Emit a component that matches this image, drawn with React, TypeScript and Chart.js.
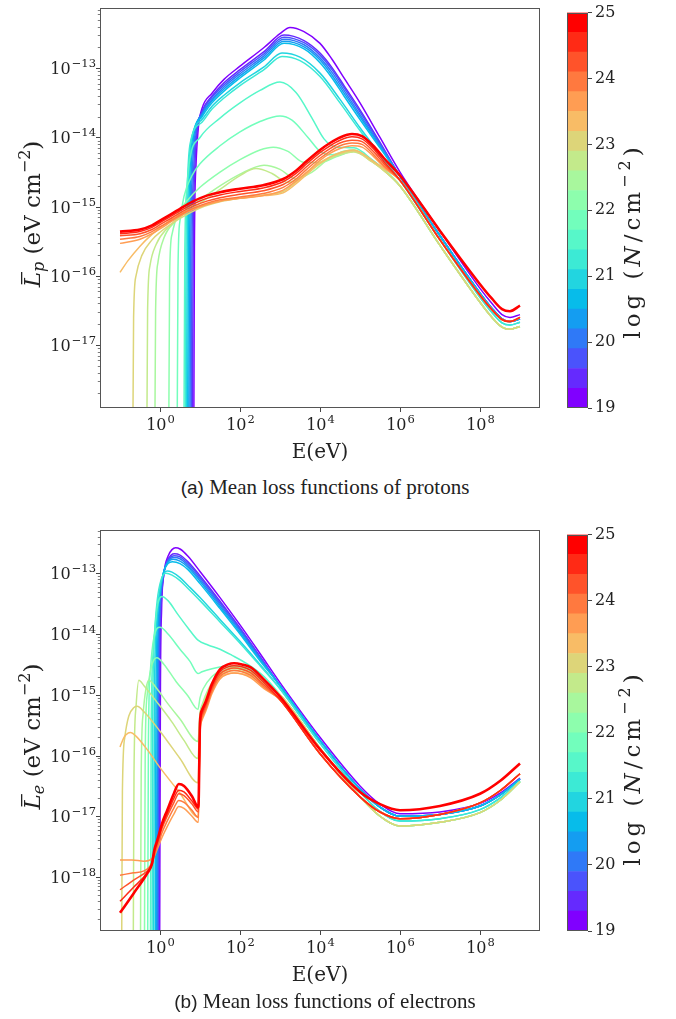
import React, { useEffect, useRef } from "react";
import { Chart, registerables } from "chart.js";
Chart.register(...registerables);

const SERIF = '"DejaVu Serif", "Liberation Serif", serif';
const CAPTION_SERIF = '"Liberation Serif", serif';
const SANS = '"Liberation Sans", "DejaVu Sans", sans-serif';

// colour bar: log N bins and tick labels
const binEdges = [19, 19.3, 19.6, 19.9, 20.2, 20.5, 20.8, 21.1, 21.4, 21.7, 22, 22.3, 22.6, 22.9, 23.2, 23.5, 23.8, 24.1, 24.4, 24.7, 25];
const cbTicks = [19, 20, 21, 22, 23, 24, 25];

// axis ticks (exponents of 10)
const xTickExps = [0, 2, 4, 6, 8];
const pYTickExps = [-17, -16, -15, -14, -13];
const eYTickExps = [-18, -17, -16, -15, -14, -13];
const xRange = [-1.5, 9.5];
const pYRange = [-17.909, -12.129];
const eYRange = [-18.889, -12.287];

// ---------- protons: [log10 E(eV), log10 L] ----------
const P_TAIL_PURPLE = [[6, -14.5], [7, -15.35], [8, -16.18], [8.3, -16.4], [8.55, -16.56], [8.75, -16.6], [9, -16.56]];
const P_TAIL_BLUE = [[6, -14.56], [7, -15.42], [8, -16.25], [8.3, -16.47], [8.55, -16.62], [8.75, -16.66], [9, -16.62]];
const P_TAIL_CYAN = [[6, -14.62], [7, -15.48], [8, -16.31], [8.3, -16.53], [8.55, -16.68], [8.75, -16.71], [9, -16.67]];
const P_TAIL_GREEN = [[6, -14.7], [7, -15.56], [8, -16.38], [8.3, -16.6], [8.55, -16.74], [8.75, -16.77], [9, -16.73]];
const P_TAIL_ORANGE = [[6, -14.62], [7, -15.48], [8, -16.28], [8.3, -16.49], [8.55, -16.63], [8.75, -16.66], [9, -16.6]];
const P_TAIL_RED = [[6, -14.55], [7, -15.35], [8, -16.12], [8.3, -16.33], [8.55, -16.48], [8.75, -16.51], [9, -16.43]];

const P0 = [[0.84, -19.5], [0.86, -15.6], [0.9, -14.4], [0.96, -13.85], [1.05, -13.58], [1.3, -13.36], [1.6, -13.16], [2.0, -12.97], [2.6, -12.7], [3.0, -12.5], [3.25, -12.41], [3.6, -12.47], [4.0, -12.64], [4.3, -12.87], [4.6, -13.14], [5.0, -13.5], [5.5, -14.0]];
const P1 = [[0.8, -19.5], [0.83, -15.6], [0.87, -14.45], [0.93, -13.9], [1.05, -13.62], [1.3, -13.4], [1.6, -13.21], [2.0, -13.02], [2.6, -12.76], [3.1, -12.52], [3.6, -12.6], [4.0, -12.78], [4.3, -12.99], [4.6, -13.25], [5.0, -13.6], [5.5, -14.07]];
const P2 = [[0.77, -19.5], [0.8, -15.6], [0.84, -14.5], [0.9, -13.95], [1.05, -13.64], [1.3, -13.42], [1.6, -13.24], [2.0, -13.05], [2.6, -12.79], [3.1, -12.55], [3.6, -12.63], [4.0, -12.81], [4.3, -13.02], [4.6, -13.28], [5.0, -13.63], [5.5, -14.09]];
const P3 = [[0.74, -19.5], [0.77, -15.6], [0.81, -14.5], [0.87, -13.98], [1.05, -13.66], [1.3, -13.45], [1.6, -13.27], [2.0, -13.08], [2.6, -12.82], [3.1, -12.58], [3.6, -12.66], [4.0, -12.85], [4.3, -13.06], [4.6, -13.32], [5.0, -13.67], [5.5, -14.11]];
const P4 = [[0.71, -19.5], [0.74, -15.6], [0.78, -14.5], [0.84, -14.0], [1.05, -13.68], [1.3, -13.47], [1.6, -13.3], [2.0, -13.11], [2.6, -12.85], [3.1, -12.61], [3.6, -12.69], [4.0, -12.88], [4.3, -13.1], [4.6, -13.36], [5.0, -13.7], [5.5, -14.13]];
const P5 = [[0.68, -19.5], [0.71, -15.6], [0.75, -14.5], [0.81, -14.02], [1.05, -13.7], [1.3, -13.5], [1.6, -13.33], [2.0, -13.14], [2.6, -12.88], [3.1, -12.64], [3.6, -12.72], [4.0, -12.92], [4.3, -13.14], [4.6, -13.4], [5.0, -13.74], [5.5, -14.15]];
const P6 = [[0.65, -19.5], [0.68, -15.6], [0.72, -14.55], [0.78, -14.05], [1.05, -13.74], [1.3, -13.55], [1.6, -13.39], [2.0, -13.21], [2.6, -12.98], [3.05, -12.78], [3.5, -12.84], [4.0, -13.07], [4.5, -13.45], [5.0, -13.86], [5.5, -14.24]];
const P7 = [[0.62, -19.5], [0.65, -15.6], [0.69, -14.6], [0.75, -14.1], [1.05, -13.78], [1.3, -13.59], [1.6, -13.43], [2.0, -13.25], [2.6, -13.02], [3.05, -12.83], [3.5, -12.89], [4.0, -13.12], [4.5, -13.5], [5.0, -13.9], [5.5, -14.27]];
const P8 = [[0.59, -19.5], [0.62, -15.7], [0.67, -14.75], [0.75, -14.3], [1.0, -14.0], [1.5, -13.72], [2.0, -13.5], [2.5, -13.32], [3.0, -13.2], [3.4, -13.35], [3.8, -13.72], [4.1, -14.02], [4.4, -14.14], [4.85, -14.15], [5.3, -14.32], [5.6, -14.46]];
const P9 = [[0.42, -19.5], [0.45, -15.9], [0.5, -15.2], [0.6, -14.85], [0.8, -14.55], [1.0, -14.38], [1.5, -14.12], [2.0, -13.92], [2.5, -13.77], [3.0, -13.69], [3.3, -13.75], [3.7, -14.0], [4.0, -14.2], [4.3, -14.25], [4.6, -14.2], [4.85, -14.18], [5.3, -14.34], [5.6, -14.47]];
const P10 = [[0.21, -19.5], [0.24, -16.0], [0.3, -15.4], [0.45, -15.1], [0.7, -14.9], [1.0, -14.72], [1.5, -14.5], [2.0, -14.32], [2.5, -14.18], [2.83, -14.14], [3.2, -14.2], [3.6, -14.36], [4.0, -14.36], [4.4, -14.28], [4.85, -14.2], [5.3, -14.34], [5.6, -14.47]];
const P11 = [[-0.14, -19.5], [-0.11, -16.5], [-0.05, -15.8], [0.1, -15.45], [0.4, -15.2], [0.7, -15.03], [1.0, -14.9], [1.5, -14.7], [2.0, -14.53], [2.6, -14.4], [3.0, -14.46], [3.4, -14.6], [3.8, -14.5], [4.2, -14.32], [4.85, -14.2], [5.3, -14.35], [5.6, -14.48]];
const P12 = [[-0.34, -19.5], [-0.31, -16.5], [-0.25, -15.85], [-0.1, -15.55], [0.2, -15.3], [0.5, -15.15], [1.0, -14.95], [1.5, -14.75], [2.0, -14.55], [2.4, -14.45], [2.8, -14.52], [3.2, -14.65], [3.6, -14.55], [4.0, -14.38], [4.4, -14.27], [4.85, -14.21], [5.3, -14.35], [5.6, -14.48]];
const P13 = [[-0.69, -19.5], [-0.66, -16.6], [-0.6, -16.0], [-0.45, -15.7], [-0.2, -15.48], [0.0, -15.37], [0.5, -15.17], [1.0, -15.02], [1.5, -14.93], [2.0, -14.88], [2.6, -14.83], [3.08, -14.78], [3.5, -14.6], [4.0, -14.36], [4.4, -14.25], [4.85, -14.2], [5.3, -14.35], [5.6, -14.48]];
const P14 = [[-1, -15.95], [-0.8, -15.78], [-0.5, -15.57], [-0.2, -15.4], [0.2, -15.22], [0.6, -15.08], [1.0, -15.0], [1.5, -14.92], [2.0, -14.88], [2.6, -14.84], [3.08, -14.8], [3.5, -14.62], [4.0, -14.37], [4.4, -14.24], [4.85, -14.18], [5.3, -14.33], [5.6, -14.45]];
const P15 = [[-1, -15.53], [-0.5, -15.47], [-0.2, -15.39], [0, -15.32], [0.3, -15.21], [0.5, -15.14], [0.8, -15.05], [1.17, -14.97], [1.5, -14.92], [2.0, -14.88], [2.58, -14.84], [3.08, -14.76], [3.4, -14.63], [3.67, -14.5], [4.0, -14.33], [4.25, -14.23], [4.5, -14.16], [4.8, -14.12], [5.05, -14.14], [5.33, -14.27], [5.6, -14.43]];
const P16 = [[-1, -15.47], [-0.5, -15.43], [-0.2, -15.36], [0, -15.29], [0.3, -15.19], [0.5, -15.12], [0.8, -15.03], [1.17, -14.95], [1.5, -14.9], [2.0, -14.86], [2.58, -14.81], [3.08, -14.72], [3.4, -14.6], [3.67, -14.46], [4.0, -14.3], [4.25, -14.2], [4.5, -14.12], [4.8, -14.08], [5.05, -14.1], [5.33, -14.24], [5.6, -14.41]];
const P17 = [[-1, -15.42], [-0.5, -15.39], [-0.2, -15.33], [0, -15.26], [0.3, -15.16], [0.5, -15.09], [0.8, -15.0], [1.17, -14.92], [1.5, -14.87], [2.0, -14.82], [2.58, -14.77], [3.08, -14.68], [3.4, -14.56], [3.67, -14.42], [4.0, -14.26], [4.25, -14.16], [4.5, -14.08], [4.8, -14.04], [5.05, -14.06], [5.33, -14.2], [5.6, -14.38]];
const P18 = [[-1, -15.39], [-0.5, -15.36], [-0.2, -15.3], [0, -15.23], [0.3, -15.13], [0.5, -15.06], [0.8, -14.97], [1.17, -14.88], [1.5, -14.83], [2.0, -14.78], [2.58, -14.73], [3.08, -14.64], [3.4, -14.52], [3.67, -14.38], [4.0, -14.22], [4.25, -14.12], [4.5, -14.04], [4.8, -13.99], [5.05, -14.02], [5.33, -14.16], [5.6, -14.35]];
const P19 = [[-1, -15.36], [-0.5, -15.33], [-0.2, -15.27], [0, -15.2], [0.3, -15.1], [0.5, -15.03], [0.8, -14.93], [1.17, -14.84], [1.5, -14.79], [2.0, -14.74], [2.58, -14.69], [3.08, -14.6], [3.4, -14.48], [3.67, -14.34], [4.0, -14.18], [4.25, -14.08], [4.5, -14.0], [4.8, -13.95], [5.05, -13.98], [5.33, -14.12], [5.6, -14.3]];

// ---------- electrons ----------
const E_TAIL_PURPLE = [[3, -14.8], [4, -15.7], [5, -16.5], [5.5, -16.8], [6, -16.96], [7, -16.93], [8, -16.79], [8.5, -16.62], [9, -16.37]];
const E_TAIL_BLUE = [[3, -14.85], [4, -15.75], [5, -16.55], [5.5, -16.85], [6, -17.0], [7, -16.97], [8, -16.83], [8.5, -16.65], [9, -16.39]];
const E_TAIL_CYAN = [[3, -14.9], [4, -15.8], [5, -16.6], [5.5, -16.92], [6, -17.08], [7, -17.04], [8, -16.89], [8.5, -16.7], [9, -16.42]];
const E_TAIL_GREEN = [[3, -15.0], [4, -15.88], [5, -16.68], [5.5, -17.0], [6, -17.16], [7, -17.1], [8, -16.94], [8.5, -16.74], [9, -16.43]];
const E_TAIL_ORANGE = [[3, -15.08], [4, -15.97], [5, -16.68], [5.5, -16.93], [6, -17.04], [7, -16.97], [8, -16.78], [8.5, -16.58], [9, -16.3]];
const E_TAIL_RED = [[3, -15.03], [4, -15.9], [5, -16.6], [5.5, -16.8], [6, -16.9], [7, -16.83], [8, -16.63], [8.5, -16.42], [9, -16.13]];

const E0 = [[-0.01, -19.5], [0.01, -15.0], [0.04, -13.6], [0.1, -13.0], [0.2, -12.72], [0.3, -12.61], [0.39, -12.58], [0.5, -12.6], [0.7, -12.72], [1.0, -12.97], [1.5, -13.4], [2.0, -13.85], [2.5, -14.32]];
const E1 = [[-0.03, -19.5], [-0.01, -15.0], [0.02, -13.7], [0.08, -13.1], [0.18, -12.8], [0.28, -12.7], [0.36, -12.68], [0.5, -12.7], [0.7, -12.81], [1.0, -13.04], [1.5, -13.46], [2.0, -13.9], [2.5, -14.37]];
const E2 = [[-0.05, -19.5], [-0.03, -15.0], [0.0, -13.75], [0.06, -13.15], [0.16, -12.84], [0.26, -12.74], [0.35, -12.71], [0.5, -12.73], [0.7, -12.84], [1.0, -13.07], [1.5, -13.49], [2.0, -13.92], [2.5, -14.38]];
const E3 = [[-0.07, -19.5], [-0.05, -15.0], [-0.02, -13.8], [0.04, -13.2], [0.14, -12.88], [0.24, -12.77], [0.34, -12.74], [0.5, -12.76], [0.7, -12.87], [1.0, -13.1], [1.5, -13.52], [2.0, -13.94], [2.5, -14.4]];
const E4 = [[-0.09, -19.5], [-0.07, -15.0], [-0.04, -13.85], [0.02, -13.25], [0.12, -12.92], [0.22, -12.8], [0.33, -12.77], [0.5, -12.8], [0.7, -12.9], [1.0, -13.13], [1.5, -13.55], [2.0, -13.97], [2.5, -14.42]];
const E5 = [[-0.12, -19.5], [-0.1, -15.0], [-0.07, -13.9], [0.0, -13.3], [0.1, -12.96], [0.2, -12.84], [0.31, -12.81], [0.5, -12.84], [0.7, -12.94], [1.0, -13.17], [1.5, -13.58], [2.0, -14.0], [2.5, -14.44]];
const E6 = [[-0.16, -19.5], [-0.14, -15.2], [-0.1, -14.0], [-0.03, -13.4], [0.07, -13.05], [0.18, -12.96], [0.3, -12.98], [0.5, -13.07], [0.7, -13.2], [1.0, -13.4], [1.5, -13.76], [2.0, -14.12], [2.5, -14.5]];
const E7 = [[-0.2, -19.5], [-0.18, -15.2], [-0.14, -14.05], [-0.07, -13.45], [0.03, -13.1], [0.15, -13.0], [0.3, -13.03], [0.5, -13.12], [0.7, -13.25], [1.0, -13.45], [1.5, -13.8], [2.0, -14.15], [2.5, -14.52]];
const E8 = [[-0.24, -19.5], [-0.22, -15.5], [-0.17, -14.3], [-0.08, -13.6], [0.05, -13.38], [0.2, -13.45], [0.45, -13.68], [0.7, -13.9], [0.95, -14.1], [1.2, -14.18], [1.5, -14.25], [1.8, -14.35], [2.2, -14.5], [2.6, -14.7]];
const E9 = [[-0.31, -19.5], [-0.29, -15.8], [-0.24, -14.6], [-0.15, -14.05], [0.0, -13.89], [0.2, -14.0], [0.5, -14.25], [0.75, -14.45], [0.95, -14.65], [1.05, -14.62], [1.3, -14.57], [1.6, -14.53], [1.9, -14.52], [2.27, -14.58], [2.6, -14.75]];
const E10 = [[-0.39, -19.5], [-0.37, -16.0], [-0.32, -15.0], [-0.22, -14.55], [-0.08, -14.39], [0.1, -14.5], [0.4, -14.78], [0.7, -15.02], [0.95, -15.24], [1.0, -15.05], [1.08, -14.9], [1.3, -14.7], [1.6, -14.56], [1.85, -14.53], [2.27, -14.6], [2.6, -14.78]];
const E11 = [[-0.49, -19.5], [-0.47, -16.3], [-0.42, -15.3], [-0.35, -14.9], [-0.28, -14.76], [-0.1, -14.88], [0.2, -15.15], [0.5, -15.4], [0.95, -15.77], [1.0, -15.3], [1.06, -15.15], [1.2, -14.92], [1.5, -14.64], [1.85, -14.55], [2.27, -14.62], [2.6, -14.8]];
const E12 = [[-0.67, -19.5], [-0.65, -16.3], [-0.6, -15.2], [-0.53, -14.76], [-0.4, -14.85], [-0.1, -15.1], [0.3, -15.45], [0.6, -15.75], [0.95, -16.05], [1.0, -15.35], [1.05, -15.2], [1.2, -14.95], [1.5, -14.66], [1.85, -14.57], [2.27, -14.64], [2.6, -14.82]];
const E13 = [[-0.96, -19.5], [-0.94, -16.6], [-0.88, -15.7], [-0.78, -15.35], [-0.65, -15.21], [-0.57, -15.19], [-0.4, -15.28], [0.0, -15.6], [0.5, -16.05], [0.95, -16.45], [1.0, -15.4], [1.05, -15.25], [1.2, -14.98], [1.5, -14.68], [1.85, -14.6], [2.27, -14.66], [2.6, -14.84]];
const E14 = [[-1, -15.86], [-0.9, -15.7], [-0.8, -15.63], [-0.74, -15.62], [-0.6, -15.68], [-0.3, -15.92], [0.0, -16.2], [0.5, -16.62], [0.95, -17.01], [1.0, -15.5], [1.05, -15.3], [1.2, -15.02], [1.5, -14.72], [1.85, -14.64], [2.27, -14.7], [2.6, -14.88]];
const E15 = [[-1, -17.72], [-0.7, -17.72], [-0.4, -17.74], [-0.25, -17.72], [-0.14, -17.65], [-0.08, -17.56], [-0.03, -17.48], [0.05, -17.35], [0.18, -17.17], [0.35, -16.96], [0.47, -16.84], [0.6, -16.87], [0.8, -17.0], [0.96, -17.1], [1.0, -15.65], [1.05, -15.42], [1.15, -15.26], [1.3, -14.98], [1.5, -14.74], [1.7, -14.66], [1.85, -14.64], [2.05, -14.66], [2.27, -14.72], [2.6, -14.9]];
const E16 = [[-1, -17.97], [-0.66, -17.93], [-0.4, -17.9], [-0.25, -17.82], [-0.14, -17.65], [-0.08, -17.52], [-0.03, -17.43], [0.05, -17.27], [0.18, -17.08], [0.35, -16.86], [0.47, -16.74], [0.6, -16.77], [0.8, -16.9], [0.96, -17.02], [1.0, -15.6], [1.05, -15.38], [1.15, -15.22], [1.3, -14.94], [1.5, -14.7], [1.7, -14.62], [1.85, -14.6], [2.05, -14.62], [2.27, -14.68], [2.6, -14.87]];
const E17 = [[-1, -18.21], [-0.66, -18.05], [-0.32, -17.9], [-0.2, -17.8], [-0.14, -17.6], [-0.08, -17.48], [-0.03, -17.38], [0.05, -17.2], [0.18, -17.0], [0.35, -16.77], [0.47, -16.63], [0.6, -16.66], [0.8, -16.8], [0.96, -16.93], [1.0, -15.55], [1.05, -15.34], [1.15, -15.18], [1.3, -14.9], [1.5, -14.66], [1.7, -14.58], [1.85, -14.56], [2.05, -14.58], [2.27, -14.64], [2.6, -14.84]];
const E18 = [[-1, -18.4], [-0.66, -18.17], [-0.32, -17.93], [-0.2, -17.78], [-0.14, -17.56], [-0.08, -17.44], [-0.03, -17.34], [0.05, -17.16], [0.18, -16.96], [0.35, -16.7], [0.47, -16.57], [0.6, -16.6], [0.8, -16.75], [0.96, -16.88], [1.0, -15.5], [1.05, -15.3], [1.15, -15.14], [1.3, -14.86], [1.5, -14.62], [1.7, -14.54], [1.85, -14.52], [2.05, -14.54], [2.27, -14.6], [2.6, -14.8]];
const E19 = [[-1, -18.59], [-0.66, -18.27], [-0.32, -17.94], [-0.2, -17.78], [-0.14, -17.55], [-0.08, -17.42], [-0.03, -17.31], [0.05, -17.12], [0.18, -16.9], [0.35, -16.62], [0.47, -16.47], [0.6, -16.5], [0.8, -16.67], [0.96, -16.85], [1.0, -15.45], [1.05, -15.25], [1.15, -15.1], [1.3, -14.82], [1.5, -14.58], [1.7, -14.5], [1.85, -14.48], [2.05, -14.5], [2.27, -14.55], [2.6, -14.75]];

const protonCurves = [
  P0.concat(P_TAIL_PURPLE), P1.concat(P_TAIL_BLUE), P2.concat(P_TAIL_BLUE), P3.concat(P_TAIL_BLUE),
  P4.concat(P_TAIL_BLUE), P5.concat(P_TAIL_BLUE), P6.concat(P_TAIL_CYAN), P7.concat(P_TAIL_CYAN),
  P8.concat(P_TAIL_GREEN), P9.concat(P_TAIL_GREEN), P10.concat(P_TAIL_GREEN), P11.concat(P_TAIL_GREEN),
  P12.concat(P_TAIL_GREEN), P13.concat(P_TAIL_GREEN), P14.concat(P_TAIL_ORANGE), P15.concat(P_TAIL_ORANGE),
  P16.concat(P_TAIL_ORANGE), P17.concat(P_TAIL_ORANGE), P18.concat(P_TAIL_ORANGE), P19.concat(P_TAIL_RED),
];
const electronCurves = [
  E0.concat(E_TAIL_PURPLE), E1.concat(E_TAIL_BLUE), E2.concat(E_TAIL_BLUE), E3.concat(E_TAIL_BLUE),
  E4.concat(E_TAIL_BLUE), E5.concat(E_TAIL_BLUE), E6.concat(E_TAIL_CYAN), E7.concat(E_TAIL_CYAN),
  E8.concat(E_TAIL_GREEN), E9.concat(E_TAIL_GREEN), E10.concat(E_TAIL_GREEN), E11.concat(E_TAIL_GREEN),
  E12.concat(E_TAIL_GREEN), E13.concat(E_TAIL_GREEN), E14.concat(E_TAIL_ORANGE), E15.concat(E_TAIL_ORANGE),
  E16.concat(E_TAIL_ORANGE), E17.concat(E_TAIL_ORANGE), E18.concat(E_TAIL_ORANGE), E19.concat(E_TAIL_RED),
];

function binColor(i: number) {
  const t = i / 19;
  const r = Math.min(1, Math.abs(2 * t - 0.5));
  const g = Math.sin(Math.PI * t);
  const b = Math.cos((Math.PI * t) / 2);
  return `rgb(${Math.round(r * 255)},${Math.round(g * 255)},${Math.round(b * 255)})`;
}

type Piece = { t: string; f: string; dy?: number; macron?: boolean };

// draws a row of text pieces centred on (cx, cy); ls = extra spacing after each character
function drawPieces(ctx: CanvasRenderingContext2D, pieces: Piece[], cx: number, cy: number, rotate: boolean, ls = 0) {
  ctx.save();
  ctx.translate(cx, cy);
  if (rotate) ctx.rotate(-Math.PI / 2);
  ctx.textAlign = "left";
  ctx.textBaseline = "alphabetic";
  const glyphs: { ch: string; f: string; dy: number; w: number; macron?: boolean }[] = [];
  pieces.forEach((p) => {
    ctx.font = p.f;
    if (ls > 0) {
      Array.from(p.t).forEach((ch) => glyphs.push({ ch, f: p.f, dy: p.dy || 0, w: ctx.measureText(ch).width + ls }));
    } else {
      glyphs.push({ ch: p.t, f: p.f, dy: p.dy || 0, w: ctx.measureText(p.t).width, macron: p.macron });
    }
  });
  const total = glyphs.reduce((s, g) => s + g.w, 0) - ls;
  let x = -total / 2;
  glyphs.forEach((g) => {
    ctx.font = g.f;
    ctx.fillText(g.ch, x, g.dy);
    if (g.macron) ctx.fillRect(x + 3, -19, g.w - 3, 1.3);
    x += g.w;
  });
  ctx.restore();
}

function drawPow(ctx: CanvasRenderingContext2D, exp: number, x: number, y: number, align: "right" | "center") {
  const bf = `16px ${SERIF}`;
  const ef = `11.5px ${SERIF}`;
  const expStr = exp < 0 ? "\u2212" + String(-exp) : String(exp);
  ctx.font = bf;
  const bw = ctx.measureText("10").width;
  ctx.font = ef;
  const ew = ctx.measureText(expStr).width;
  const total = bw + ew + 1;
  const x0 = align === "right" ? x - total : x - total / 2;
  ctx.textAlign = "left";
  ctx.textBaseline = "alphabetic";
  ctx.font = bf;
  ctx.fillText("10", x0, y);
  ctx.font = ef;
  ctx.fillText(expStr, x0 + bw + 1, y - 7);
}

function axesPlugin(yExps: number[], yRange: number[], sub: string) {
  return {
    id: "axesFrame",
    afterDraw(chart: any) {
      const { ctx, chartArea: a, scales } = chart;
      const xs = scales.x;
      const ys = scales.y;
      ctx.save();
      ctx.fillStyle = "#222";
      ctx.strokeStyle = "#555";
      ctx.lineWidth = 1;
      ctx.strokeRect(Math.round(a.left) + 0.5, Math.round(a.top) + 0.5, Math.round(a.right - a.left) - 1, Math.round(a.bottom - a.top) - 1);
      ctx.strokeStyle = "#444";
      xTickExps.forEach((e) => {
        const px = Math.round(xs.getPixelForValue(Math.pow(10, e))) + 0.5;
        ctx.beginPath();
        ctx.moveTo(px, a.bottom);
        ctx.lineTo(px, a.bottom + 4);
        ctx.stroke();
        drawPow(ctx, e, px, a.bottom + 22, "center");
      });
      const lo = Math.floor(yRange[0]);
      const hi = Math.ceil(yRange[1]);
      for (let e = lo; e <= hi; e++) {
        for (let k = 1; k <= 9; k++) {
          const lv = e + Math.log10(k);
          if (lv < yRange[0] || lv > yRange[1]) continue;
          const py = Math.round(ys.getPixelForValue(Math.pow(10, lv))) + 0.5;
          ctx.lineWidth = k === 1 ? 1 : 0.7;
          ctx.beginPath();
          ctx.moveTo(a.left, py);
          ctx.lineTo(a.left - (k === 1 ? 4 : 2.2), py);
          ctx.stroke();
        }
      }
      yExps.forEach((e) => {
        const py = ys.getPixelForValue(Math.pow(10, e));
        drawPow(ctx, e, a.left - 4, py + 6, "right");
      });
      ctx.fillStyle = "#222";
      drawPieces(ctx, [{ t: "E(eV)", f: `20px ${SERIF}` }], (a.left + a.right) / 2, a.bottom + 50, false);
      drawPieces(
        ctx,
        [
          { t: "L", f: `italic 23px ${SERIF}`, macron: true },
          { t: sub, f: `italic 16px ${SERIF}`, dy: 4 },
          { t: " (eV cm", f: `23px ${SERIF}` },
          { t: "\u22122", f: `16px ${SERIF}`, dy: -10 },
          { t: ")", f: `23px ${SERIF}` },
        ],
        40,
        (a.top + a.bottom) / 2 + 6,
        true
      );
      ctx.restore();
    },
  };
}

function lineConfig(curves: number[][][], yRange: number[], yExps: number[], sub: string, H: number, areaBottom: number) {
  const datasets = curves.map((pts, i) => ({
    data: pts.map(([lx, ly]) => ({ x: Math.pow(10, lx), y: Math.pow(10, ly) })),
    borderColor: binColor(i),
    borderWidth: i === 19 ? 2.6 : 1.5,
    pointRadius: 0,
    fill: false,
    cubicInterpolationMode: "monotone",
    order: 19 - i,
  }));
  return {
    type: "line",
    data: { datasets },
    options: {
      animation: false,
      responsive: false,
      maintainAspectRatio: false,
      events: [],
      layout: { padding: { left: 100, right: 136, top: 8, bottom: H - areaBottom } },
      plugins: { legend: { display: false }, tooltip: { enabled: false } },
      scales: {
        x: { type: "logarithmic", display: false, min: Math.pow(10, xRange[0]), max: Math.pow(10, xRange[1]) },
        y: { type: "logarithmic", display: false, min: Math.pow(10, yRange[0]), max: Math.pow(10, yRange[1]) },
      },
    },
    plugins: [axesPlugin(yExps, yRange, sub)],
  } as any;
}

function cbConfig(H: number, areaBottom: number, labelY: number) {
  return {
    type: "bar",
    data: {
      labels: [""],
      datasets: binEdges.slice(0, -1).map((lo, i) => ({
        data: [[lo, binEdges[i + 1]]],
        backgroundColor: binColor(i),
        borderWidth: 0,
        grouped: false,
        barPercentage: 1,
        categoryPercentage: 1,
      })),
    },
    options: {
      animation: false,
      responsive: false,
      maintainAspectRatio: false,
      events: [],
      layout: { padding: { left: 27, top: 8, bottom: H - areaBottom, right: 0 } },
      plugins: { legend: { display: false }, tooltip: { enabled: false } },
      scales: {
        x: { display: false },
        y: {
          position: "right",
          min: 19,
          max: 25,
          afterBuildTicks: (s: any) => {
            s.ticks = cbTicks.map((v) => ({ value: v }));
          },
          afterFit: (s: any) => {
            s.width = 88;
          },
          ticks: { font: { family: SERIF, size: 16 }, color: "#222", padding: 3 },
          grid: { drawOnChartArea: false, tickLength: 4, color: "#444" },
          border: { display: false },
        },
      },
    },
    plugins: [
      {
        id: "cbFrame",
        afterDraw(chart: any) {
          const { ctx, chartArea: a } = chart;
          ctx.save();
          ctx.strokeStyle = "#555";
          ctx.lineWidth = 1;
          ctx.strokeRect(Math.round(a.left) + 0.5, Math.round(a.top) + 0.5, Math.round(a.right - a.left) - 1, Math.round(a.bottom - a.top) - 1);
          ctx.fillStyle = "#222";
          drawPieces(
            ctx,
            [
              { t: "log (", f: `23px ${SERIF}` },
              { t: "N", f: `italic 23px ${SERIF}` },
              { t: "/cm", f: `23px ${SERIF}` },
              { t: "\u22122", f: `16px ${SERIF}`, dy: -10 },
              { t: ")", f: `23px ${SERIF}` },
            ],
            100,
            labelY,
            true,
            4
          );
          ctx.restore();
        },
      },
    ],
  } as any;
}

const captionStyle: React.CSSProperties = {
  position: "absolute",
  left: 0,
  width: 650,
  textAlign: "center",
  fontFamily: CAPTION_SERIF,
  fontSize: 21,
  color: "#222",
  whiteSpace: "nowrap",
};

export default function App() {
  const top = useRef<HTMLCanvasElement>(null);
  const topCb = useRef<HTMLCanvasElement>(null);
  const bot = useRef<HTMLCanvasElement>(null);
  const botCb = useRef<HTMLCanvasElement>(null);

  useEffect(() => {
    Chart.defaults.font.family = SERIF;
    Chart.defaults.color = "#222";
    const charts = [
      new Chart(top.current as HTMLCanvasElement, lineConfig(protonCurves, pYRange, pYTickExps, "p", 470, 408)),
      new Chart(topCb.current as HTMLCanvasElement, cbConfig(440, 408, 243)),
      new Chart(bot.current as HTMLCanvasElement, lineConfig(electronCurves, eYRange, eYTickExps, "e", 470, 409)),
      new Chart(botCb.current as HTMLCanvasElement, cbConfig(440, 409, 248)),
    ];
    return () => charts.forEach((c) => c.destroy());
  }, []);

  const cs = (l: number, t: number, w: number, h: number): React.CSSProperties => ({ position: "absolute", left: l, top: t, width: w, height: h });

  return (
    <div style={{ position: "absolute", left: 0, top: 0, width: 676, height: 1019, background: "#fff", overflow: "hidden" }}>
      <canvas ref={top} width={676} height={470} style={cs(0, 0, 676, 470)} />
      <canvas ref={topCb} width={136} height={440} style={cs(540, 0, 136, 440)} />
      <div style={{ ...captionStyle, top: 475 }}>
        <span style={{ fontFamily: SANS, fontSize: 19 }}>(a)</span> Mean loss functions of protons
      </div>
      <canvas ref={bot} width={676} height={470} style={cs(0, 522, 676, 470)} />
      <canvas ref={botCb} width={136} height={440} style={cs(540, 522, 136, 440)} />
      <div style={{ ...captionStyle, top: 989 }}>
        <span style={{ fontFamily: SANS, fontSize: 19 }}>(b)</span> Mean loss functions of electrons
      </div>
    </div>
  );
}
